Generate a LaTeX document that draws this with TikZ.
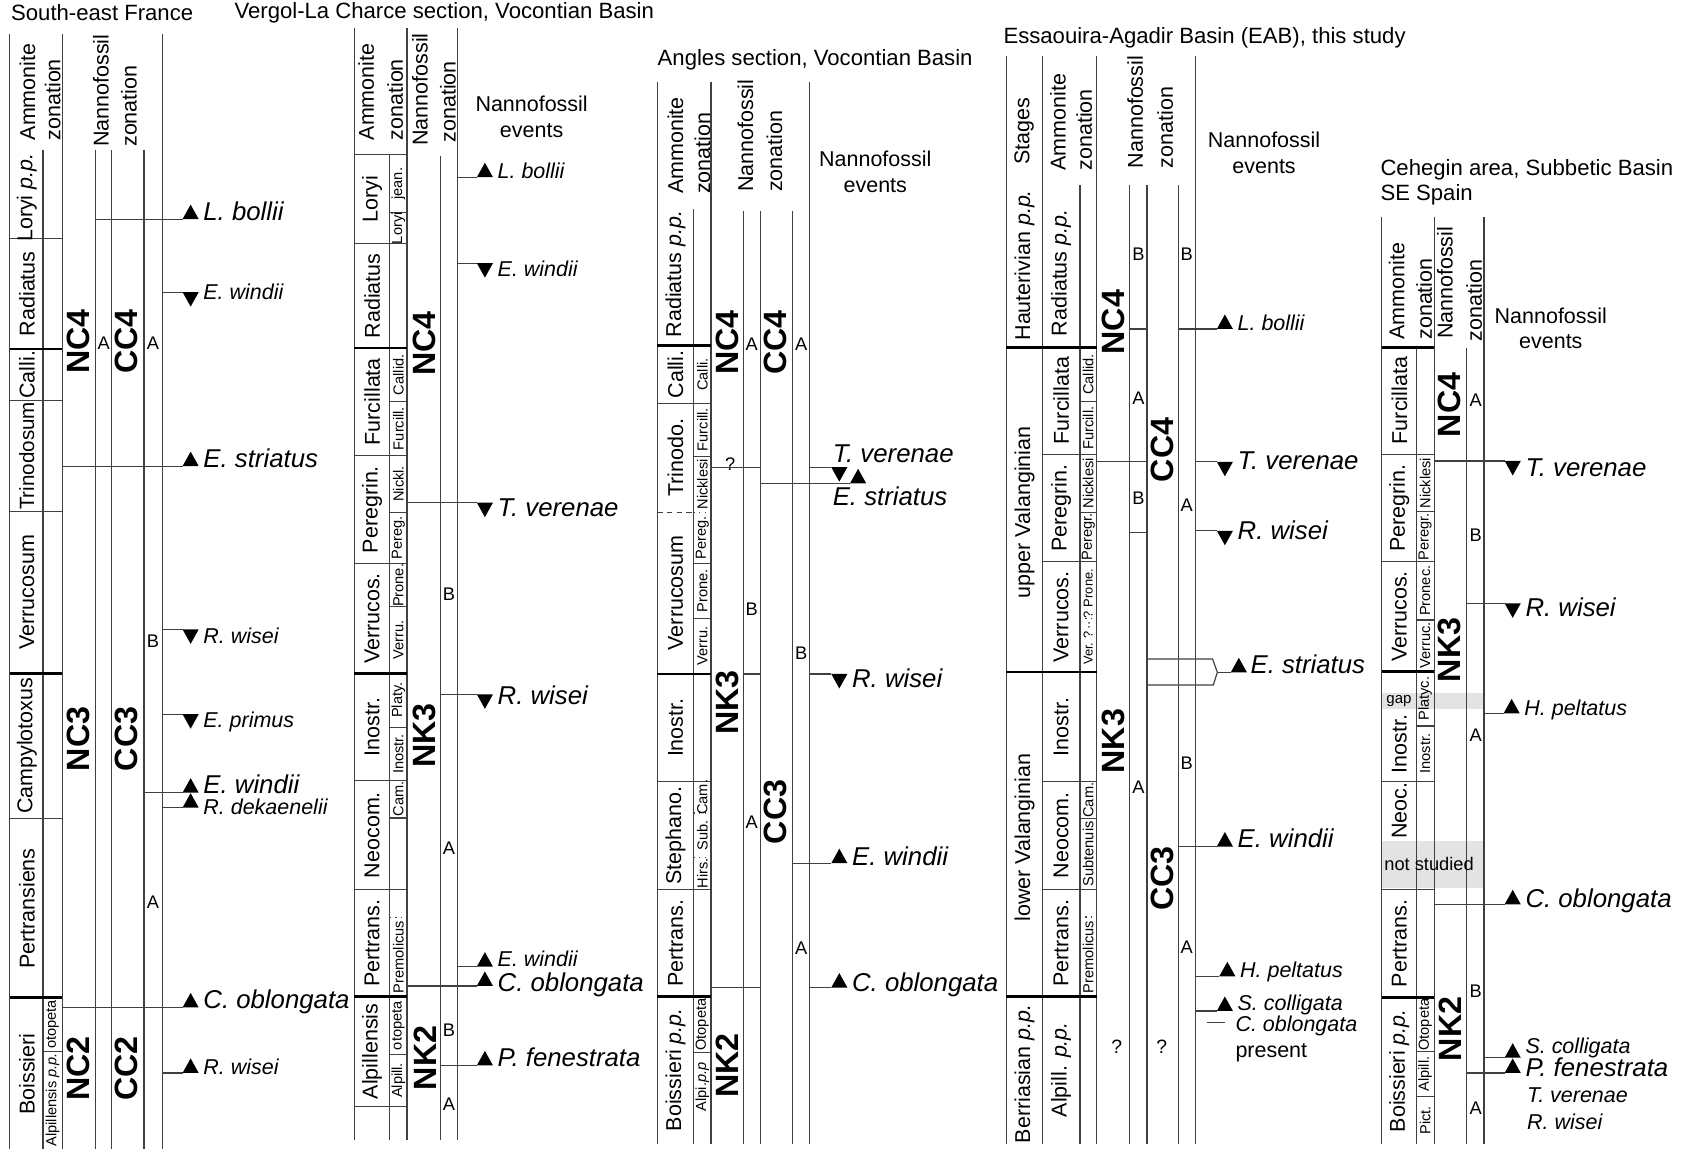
\documentclass[tikz,border=0pt]{standalone}
\usepackage{fontspec}
\setmainfont{Liberation Sans}
\newcommand{\pp}{\textit{p.p.}}
% #1 name, #2 x start, #3 x triangle, #4 y, #5 style, #6 text, #7 label baseline offset
\newcommand{\EvUp}[7]{%
  \coordinate (#1s) at (#2,#4);
  \coordinate (#1t) at (#3,#4);
  \draw[ln] (#1s) -- (#1t);
  \fill (#1t) -- ++(15,0) -- ++(-7.5,-13.5) -- cycle;
  \node[#5, anchor=base west] (#1) at ({#3+19},{#4+(#7)}) {#6};
}
\newcommand{\EvDn}[7]{%
  \coordinate (#1s) at (#2,#4);
  \coordinate (#1t) at (#3,#4);
  \draw[ln] (#1s) -- (#1t);
  \fill (#1t) -- ++(15,0) -- ++(-7.5,13.5) -- cycle;
  \node[#5, anchor=base west] (#1) at ({#3+19},{#4+(#7)}) {#6};
}
\begin{document}
\begin{tikzpicture}[x=0.5pt,y=-0.5pt,
  ln/.style={line width=0.55pt, draw=black!75},
  tk/.style={line width=1.3pt, draw=black},
  dt/.style={line width=0.55pt, draw=black!75, dotted},
  ds/.style={line width=0.55pt, draw=black!75, dash pattern=on 2.5pt off 2pt},
  ttl/.style={font=\fontsize{10.3}{12}\selectfont, anchor=west, inner sep=0pt},
  hdr/.style={font=\fontsize{10}{12}\selectfont, rotate=90, anchor=west, inner sep=0pt},
  zn/.style={font=\fontsize{10}{12}\selectfont, rotate=90, inner sep=0pt},
  sz/.style={font=\fontsize{6.8}{8}\selectfont, rotate=90, inner sep=0pt},
  szs/.style={font=\fontsize{6}{7}\selectfont, rotate=90, inner sep=0pt},
  nz/.style={font=\fontsize{15}{16}\selectfont\bfseries, rotate=90, inner sep=0pt},
  ab/.style={font=\fontsize{8.5}{10}\selectfont, inner sep=0pt},
  evb/.style={font=\fontsize{12}{14}\selectfont\itshape, inner sep=0pt},
  evs/.style={font=\fontsize{10}{12}\selectfont\itshape, inner sep=0pt},
  pl/.style={font=\fontsize{10}{12}\selectfont, inner sep=0pt},
  nev/.style={font=\fontsize{10}{12}\selectfont, align=center, inner sep=0pt},
]
\useasboundingbox (0,0) rectangle (1568,1073);

% ================= Column 1: South-east France =================
\node[ttl] (t1) at (10,12) {South-east France};
\draw[ln] (9,32) -- (9,1070);
\draw[ln] (40,140) -- (40,1070);
\draw[ln] (58,32) -- (58,1070);
\draw[ln] (89,140) -- (89,1070);
\draw[ln] (104,140) -- (104,1070);
\draw[ln] (134,140) -- (134,1070);
\draw[ln] (151,32) -- (151,1070);
\draw[ln] (9,222) -- (58,222);
\draw[tk] (9,325) -- (58,325);
\draw[ln] (9,373) -- (58,373);
\draw[ln] (9,476) -- (58,476);
\draw[tk] (9,627) -- (58,627);
\draw[ln] (9,762) -- (58,762);
\draw[tk] (9,929) -- (58,929);
\draw[ln] (40,979) -- (58,979);
\node[hdr] (h1a) at (25.6,131) {Ammonite};
\node[hdr] (h1b) at (49,131) {zonation};
\node[hdr] (h1c) at (94,137) {Nannofossil};
\node[hdr] (h1d) at (120,137) {zonation};
\node[zn] (z1a) at (25,184) {Loryi \pp};
\node[zn] (z1b) at (25,273.5) {Radiatus};
\node[zn] (z1c) at (25,349) {Calli.};
\node[zn,font=\fontsize{9.6}{11}\selectfont] (z1d) at (25,424.5) {Trinodosum};
\node[zn] (z1e) at (25,551.5) {Verrucosum};
\node[zn] (z1f) at (25,694.5) {Campylotoxus};
\node[zn] (z1g) at (25,846) {Pertransiens};
\node[zn] (z1h) at (25,1000) {Boissieri};
\node[sz] (s1a) at (49,954) {otopeta};
\node[sz] (s1b) at (49,1024) {Alpillensis \pp};
\node[nz] (n1a) at (73,318) {NC4};
\node[nz] (n1b) at (73,688) {NC3};
\node[nz] (n1c) at (73,995) {NC2};
\node[nz] (c1a) at (118,318) {CC4};
\node[nz] (c1b) at (118,688) {CC3};
\node[nz] (c1c) at (118,995) {CC2};
\node[ab] (l1a) at (96.5,320) {A};
\node[ab] (l1b) at (142.5,320) {A};
\node[ab] (l1c) at (142.5,597) {B};
\node[ab] (l1d) at (142.5,840) {A};
\EvUp{a1}{89}{170}{204}{evb}{L. bollii}{1}
\EvDn{a2}{151}{170}{272}{evs}{E. windii}{7}
\EvUp{a3}{58}{170}{434}{evb}{E. striatus}{1}
\EvDn{a4}{151}{170}{586}{evs}{R. wisei}{13}
\EvDn{a5}{151}{170}{665}{evs}{E. primus}{12}
\EvUp{a6}{134}{170}{738}{evb}{E. windii}{1}
\EvUp{a7}{151}{170}{752}{evs}{R. dekaenelii}{6}
\EvUp{a8}{58}{170}{938}{evb}{C. oblongata}{1}
\EvUp{a9}{151}{170}{999}{evs}{R. wisei}{1}

% ================= Column 2: Vergol-La Charce =================
\node[ttl] (t2) at (218,12) {Vergol-La Charce section, Vocontian Basin};
\draw[ln] (330,26) -- (330,1061);
\draw[ln] (363,144) -- (363,1061);
\draw[ln] (379,26) -- (379,1061);
\draw[ln] (410,145) -- (410,1061);
\draw[ln] (426,26) -- (426,1061);
\draw[ln] (330,144) -- (379,144);
\draw[ln] (330,227) -- (379,227);
\draw[tk] (330,324) -- (379,324);
\draw[ln] (330,424) -- (379,424);
\draw[ln] (330,525) -- (379,525);
\draw[tk] (330,627) -- (379,627);
\draw[ln] (330,727) -- (379,727);
\draw[ln] (330,828) -- (379,828);
\draw[tk] (330,928) -- (379,928);
\draw[ln] (330,1030) -- (379,1030);
\foreach \yy in {198,374,477,565,677,761.6,982} \draw[ln] (363,\yy) -- (379,\yy);
\draw[dt] (363,854) -- (379,854);
\node[hdr] (h2a) at (341,131) {Ammonite};
\node[hdr] (h2b) at (368,131) {zonation};
\node[hdr] (h2c) at (391,136) {Nannofossil};
\node[hdr] (h2d) at (417,133) {zonation};
\node[nev] (e2h) at (495,109) {Nannofossil\\events};
\node[zn] (z2a) at (346.5,185.5) {Loryi};
\node[zn] (z2b) at (346.5,275.5) {Radiatus};
\node[zn] (z2c) at (346.5,374) {Furcillata};
\node[zn] (z2d) at (346.5,474.5) {Peregrin.};
\node[zn] (z2e) at (346.5,576) {Verrucos.};
\node[zn] (z2f) at (346.5,677) {Inostr.};
\node[zn] (z2g) at (346.5,777.5) {Neocom.};
\node[zn] (z2h) at (346.5,878) {Pertrans.};
\node[zn] (z2i) at (346.5,979) {Alpillensis};
\node[sz] (s2a) at (371,171) {jean.};
\node[sz] (s2b) at (371,212.5) {Loryi};
\node[sz] (s2c) at (371,349) {Callid.};
\node[sz] (s2d) at (371,399) {Furcill.};
\node[sz] (s2e) at (371,450.5) {Nickl.};
\node[sz] (s2f) at (371,501) {Pereg.};
\node[sz] (s2g) at (371,545) {Prone.};
\node[sz] (s2h) at (371,596) {Verru.};
\node[sz] (s2i) at (371,652) {Platy.};
\node[sz] (s2j) at (371,702) {Inostr.};
\node[sz] (s2k) at (371,744) {Cam.};
\node[sz] (s2l) at (371,891) {Premolicus};
\node[sz] (s2m) at (371,955) {otopeta};
\node[sz] (s2n) at (371,1006) {Alpill.};
\node[nz] (n2a) at (395.5,320) {NC4};
\node[nz] (n2b) at (395.5,685) {NK3};
\node[nz] (n2c) at (395.5,985) {NK2};
\node[ab] (l2a) at (418,553) {B};
\node[ab] (l2b) at (418,790) {A};
\node[ab] (l2c) at (418,959) {B};
\node[ab] (l2d) at (418,1028) {A};
\EvUp{b1}{426}{444}{165}{evs}{L. bollii}{1}
\EvDn{b2}{426}{444}{245}{evs}{E. windii}{12}
\EvDn{b3}{379}{444}{468}{evb}{T. verenae}{13}
\EvDn{b4}{410}{444}{646.5}{evb}{R. wisei}{9}
\EvUp{b5}{426}{444}{900}{evs}{E. windii}{0}
\EvUp{b6}{379}{444}{918}{evb}{C. oblongata}{5}
\EvUp{b7}{410}{444}{992}{evb}{P. fenestrata}{1}

% ================= Column 3: Angles =================
\node[ttl] (t3) at (612,56) {Angles section, Vocontian Basin};
\draw[ln] (612,76) -- (612,1065);
\draw[ln] (646,195) -- (646,1065);
\draw[ln] (662,76) -- (662,1065);
\draw[ln] (692,196) -- (692,1065);
\draw[ln] (708,196) -- (708,1065);
\draw[ln] (738,196) -- (738,1065);
\draw[ln] (754,76) -- (754,1065);
\draw[tk] (612,322) -- (662,322);
\draw[ln] (612,375.4) -- (662,375.4);
\draw[ds] (612,477) -- (646,477);
\draw[dt] (646,477) -- (662,477);
\draw[tk] (612,627.5) -- (662,627.5);
\draw[ln] (612,727.7) -- (662,727.7);
\draw[ln] (612,828) -- (662,828);
\draw[tk] (612,928) -- (662,928);
\foreach \yy in {425.3,525,575.6,980} \draw[ln] (646,\yy) -- (662,\yy);
\draw[dt] (646,757) -- (662,757);
\draw[dt] (646,798.5) -- (662,798.5);
\node[hdr] (h3a) at (629,181) {Ammonite};
\node[hdr] (h3b) at (654,181) {zonation};
\node[hdr] (h3c) at (694,179) {Nannofossil};
\node[hdr] (h3d) at (721,179) {zonation};
\node[nev] (e3h) at (815,160) {Nannofossil\\events};
\node[zn] (z3a) at (629,255) {Radiatus \pp};
\node[zn] (z3b) at (629,348.7) {Calli.};
\node[zn] (z3c) at (629,426) {Trinodo.};
\node[zn] (z3d) at (629,552) {Verrucosum};
\node[zn] (z3e) at (629,677.6) {Inostr.};
\node[zn] (z3f) at (629,778) {Stephano.};
\node[zn] (z3g) at (629,878) {Pertrans.};
\node[zn] (z3h) at (629,996) {Boissieri \pp};
\node[sz] (s3a) at (654,348.7) {Calli.};
\node[sz] (s3b) at (654,400) {Furcill.};
\node[sz] (s3c) at (654,451) {Nicklesi};
\node[sz] (s3d) at (654,501) {Pereg.};
\node[sz] (s3e) at (654,550) {Prone.};
\node[sz] (s3f) at (654,601.5) {Verru.};
\node[sz] (s3g) at (654,742.4) {Cam.};
\node[sz] (s3h) at (654,777.8) {Sub.};
\node[sz] (s3i) at (654,813) {Hirs.};
\node[sz] (s3j) at (654,954) {Otopeta};
\node[sz] (s3k) at (654,1012) {Alpi.\textit{p.p}};
\node[nz] (n3a) at (677,319) {NC4};
\node[nz] (n3b) at (677,654) {NK3};
\node[nz] (n3c) at (677,992) {NK2};
\node[nz] (c3a) at (722,319) {CC4};
\node[nz] (c3b) at (722,756) {CC3};
\node[ab] (l3a) at (700,320.5) {A};
\node[ab] (l3b) at (700,567) {B};
\node[ab] (l3c) at (700,765.7) {A};
\node[ab] (l3d) at (746,320.5) {A};
\node[ab] (l3e) at (746,608.5) {B};
\node[ab] (l3f) at (746,883) {A};
\coordinate (q3a) at (662,435);
\coordinate (q3b) at (708,435);
\draw[ln] (q3a) -- (q3b);
\node[ab] (q3) at (680,432) {?};
\draw[ln] (692,627.5) -- (708,627.5);
\draw[ln] (662,919.5) -- (708,919.5);
% T. verenae / E. striatus pair
\coordinate (c1s) at (754,435);
\coordinate (c1t) at (774,435);
\draw[ln] (c1s) -- (c1t);
\fill (c1t) -- ++(15,0) -- ++(-7.5,13.5) -- cycle;
\node[evb, anchor=base west] (c1) at (775,431) {T. verenae};
\coordinate (c2s) at (708,450);
\coordinate (c2t) at (791.5,450);
\draw[ln] (c2s) -- (c2t);
\fill (c2t) -- ++(15,0) -- ++(-7.5,-13.5) -- cycle;
\node[evb, anchor=base west] (c2) at (775,470.5) {E. striatus};
\EvDn{c3}{754}{774}{627.5}{evb}{R. wisei}{13}
\EvUp{c4}{738}{774}{803.7}{evb}{E. windii}{2}
\EvUp{c5}{754}{774}{919.5}{evb}{C. oblongata}{4}

% ================= Column 4: EAB =================
\node[ttl] (t4) at (934,35.5) {Essaouira-Agadir Basin (EAB), this study};
\draw[ln] (937,52) -- (937,1065);
\draw[ln] (971,52) -- (971,1065);
\draw[ln] (1005.6,172.6) -- (1005.6,1065);
\draw[ln] (1021,52) -- (1021,1065);
\draw[ln] (1052,172.6) -- (1052,1065);
\draw[ln] (1068,172.6) -- (1068,1065);
\draw[ln] (1097,172.6) -- (1097,1065);
\draw[ln] (1113,52) -- (1113,1065);
\draw[tk] (937,323.3) -- (1021,323.3);
\draw[tk] (937,625.7) -- (1021,625.7);
\draw[tk] (937,928) -- (1021,928);
\foreach \yy in {423.1,523,727.7,828} \draw[ln] (971,\yy) -- (1021,\yy);
\foreach \yy in {374,477.3,762.3} \draw[ln] (1005.6,\yy) -- (1021,\yy);
\draw[dt] (1005.6,575.6) -- (1021,575.6);
\draw[dt] (1005.6,853.8) -- (1021,853.8);
\node[hdr] (h4a) at (953.6,154) {Stages};
\node[hdr] (h4b) at (985,159) {Ammonite};
\node[hdr] (h4c) at (1009.5,159) {zonation};
\node[hdr] (h4d) at (1057,157) {Nannofossil};
\node[hdr] (h4e) at (1085,157) {zonation};
\node[nev] (e4h) at (1177,142) {Nannofossil\\events};
\node[zn] (g4a) at (954,247) {Hauterivian \pp};
\node[zn] (g4b) at (954,477) {upper Valanginian};
\node[zn] (g4c) at (954,780) {lower Valanginian};
\node[zn] (g4d) at (954,1000) {Berriasian \pp};
\node[zn] (z4a) at (988,254) {Radiatus \pp};
\node[zn] (z4b) at (988,373) {Furcillata};
\node[zn] (z4c) at (988,473) {Peregrin.};
\node[zn] (z4d) at (988,574.4) {Verrucos.};
\node[zn] (z4e) at (988,676.7) {Inostr.};
\node[zn] (z4f) at (988,777.8) {Neocom.};
\node[zn] (z4g) at (988,878) {Pertrans.};
\node[zn] (z4h) at (988,996) {Alpill. \pp};
\node[sz] (s4a) at (1013.3,348.6) {Callid.};
\node[sz] (s4b) at (1013.3,398.5) {Furcill.};
\node[sz] (s4c) at (1013.3,450) {Nicklesi};
\node[sz] (s4d) at (1013.3,500) {Peregr.};
\node[szs] (s4e) at (1013.3,574.4) {Ver.\ ?\,··\,? Prone.};
\node[sz] (s4f) at (1013.3,745) {Cam.};
\node[sz] (s4g) at (1013.3,795) {Subtenuis};
\node[sz] (s4h) at (1013.3,891) {Premolicus};
\node[nz] (n4a) at (1036.6,300) {NC4};
\node[nz] (n4b) at (1036.6,690) {NK3};
\node[nz] (c4a) at (1082.5,419) {CC4};
\node[nz] (c4b) at (1082.5,818) {CC3};
\node[ab] (l4a) at (1060,237) {B};
\node[ab] (l4b) at (1060,370.6) {A};
\node[ab] (l4c) at (1060,463.7) {B};
\node[ab] (l4d) at (1060,733) {A};
\node[ab] (l4e) at (1105,237) {B};
\node[ab] (l4f) at (1105,470.5) {A};
\node[ab] (l4g) at (1105,710.4) {B};
\node[ab] (l4h) at (1105,881.5) {A};
\node[ab,font=\fontsize{9}{10}\selectfont] (q4a) at (1039.7,975) {?};
\node[ab,font=\fontsize{9}{10}\selectfont] (q4b) at (1081.6,975) {?};
\draw[ln] (1052,306.3) -- (1068,306.3);
\draw[ln] (1021,430) -- (1068,430);
\draw[ln] (1052,495.9) -- (1068,495.9);
\EvUp{d1}{1097}{1133}{306.3}{evs}{L. bollii}{1}
\EvDn{d2}{1113}{1133}{430}{evb}{T. verenae}{7}
\EvDn{d3}{1113}{1133}{494.2}{evb}{R. wisei}{8}
% E. striatus bracket
\coordinate (d4a) at (1068,613.6);
\coordinate (d4b) at (1068,637.8);
\coordinate (d4p) at (1133.5,626);
\coordinate (d4t) at (1146,626);
\draw[ln] (d4a) -- (1129,613.6) -- (d4p) -- (1129.7,637.8) -- (d4b);
\draw[ln] (d4p) -- (d4t);
\fill (d4t) -- ++(15,0) -- ++(-7.5,-13.5) -- cycle;
\node[evb, anchor=base west] (d4) at (1164,627) {E. striatus};
\EvUp{d5}{1097}{1133}{788.2}{evb}{E. windii}{1}
\EvUp{d6}{1113}{1135.3}{909}{evs}{H. peltatus}{1}
\EvUp{d7}{1113}{1133}{941.3}{evs}{S. colligata}{0}
\coordinate (d8a) at (1123.5,952.3);
\coordinate (d8b) at (1140.6,952.3);
\draw[ln] (d8a) -- (d8b);
\node[evs, anchor=west] (d8) at (1150,955) {C. oblongata};
\node[pl, anchor=west] (d9) at (1150,980) {present};

% ================= Column 5: Cehegin =================
\node[ttl] (t5a) at (1285,158) {Cehegin area, Subbetic Basin};
\node[ttl] (t5b) at (1285,181.6) {SE Spain};
\fill[gray!22] (1286.5,645.2) rectangle (1381.8,660);
\fill[gray!22] (1286.5,782.6) rectangle (1381.8,826.9);
\draw[ln] (1286.5,201.7) -- (1286.5,1065);
\draw[ln] (1319,324.3) -- (1319,1065);
\draw[ln] (1335.5,201.7) -- (1335.5,1065);
\draw[ln] (1365.6,324.3) -- (1365.6,1065);
\draw[ln] (1381.8,201.7) -- (1381.8,1065);
\draw[tk] (1286.5,323.4) -- (1335.5,323.4);
\draw[ln] (1286.5,423) -- (1335.5,423);
\draw[ln] (1286.5,523) -- (1335.5,523);
\draw[tk] (1286.5,625.3) -- (1335.5,625.3);
\draw[ln] (1286.5,727.3) -- (1335.5,727.3);
\draw[ln] (1286.5,828.4) -- (1335.5,828.4);
\draw[tk] (1286.5,928.6) -- (1335.5,928.6);
\foreach \yy in {476.4,577.3,675.9,979.1,1021} \draw[ln] (1319,\yy) -- (1335.5,\yy);
\node[hdr] (h5a) at (1300.5,316.6) {Ammonite};
\node[hdr] (h5b) at (1326,316.6) {zonation};
\node[hdr] (h5c) at (1345.5,316) {Nannofossil};
\node[hdr] (h5d) at (1372.6,318) {zonation};
\node[nev] (e5h) at (1444,305.7) {Nannofossil\\events};
\node[zn] (z5a) at (1303,373) {Furcillata};
\node[zn] (z5b) at (1303,473) {Peregrin.};
\node[zn] (z5c) at (1303,574) {Verrucos.};
\node[zn] (z5d) at (1303,692.6) {Inostr.};
\node[zn] (z5e) at (1303,755) {Neoc.};
\node[zn] (z5f) at (1303,878.5) {Pertrans.};
\node[zn] (z5g) at (1303,997) {Boissieri \pp};
\node[font=\fontsize{7}{8}\selectfont, inner sep=0pt] (gp) at (1302.6,652.6) {gap};
\node[font=\fontsize{8.5}{10}\selectfont, inner sep=0pt] (ns) at (1330.6,804.7) {not studied};
\node[sz] (s5a) at (1327,449.7) {Nicklesi};
\node[sz] (s5b) at (1327,499.7) {Peregr.};
\node[sz] (s5c) at (1327,550) {Pronec.};
\node[sz] (s5d) at (1327,601) {Verruc.};
\node[sz] (s5e) at (1327,650.6) {Platyc.};
\node[sz] (s5f) at (1327,701.6) {Inostr.};
\node[sz] (s5g) at (1327,954) {Otopeta};
\node[sz] (s5h) at (1327,1000) {Alpill.};
\node[sz] (s5i) at (1327,1043) {Pict.};
\node[nz] (n5a) at (1350,377) {NC4};
\node[nz] (n5b) at (1350,605) {NK3};
\node[nz] (n5c) at (1350,958) {NK2};
\node[ab] (l5a) at (1374,372.4) {A};
\node[ab] (l5b) at (1374,498.1) {B};
\node[ab] (l5c) at (1374,684.7) {A};
\node[ab] (l5d) at (1374,923.2) {B};
\node[ab] (l5e) at (1374,1032.2) {A};
\EvDn{f1}{1335.5}{1401}{429.2}{evb}{T. verenae}{14}
\EvDn{f2}{1365.6}{1401}{561.8}{evb}{R. wisei}{12}
\EvUp{f3}{1381.8}{1400}{664.2}{evs}{H. peltatus}{2}
\EvUp{f4}{1335.5}{1401}{842}{evb}{C. oblongata}{3}
\EvUp{f5}{1381.8}{1401}{984.8}{evs}{S. colligata}{-4}
\EvUp{f6}{1365.6}{1401}{999}{evb}{P. fenestrata}{3}
\node[evs, anchor=west] (f7) at (1421.5,1019.6) {T. verenae};
\node[evs, anchor=west] (f8) at (1421.5,1044.2) {R. wisei};
\end{tikzpicture}
\end{document}
